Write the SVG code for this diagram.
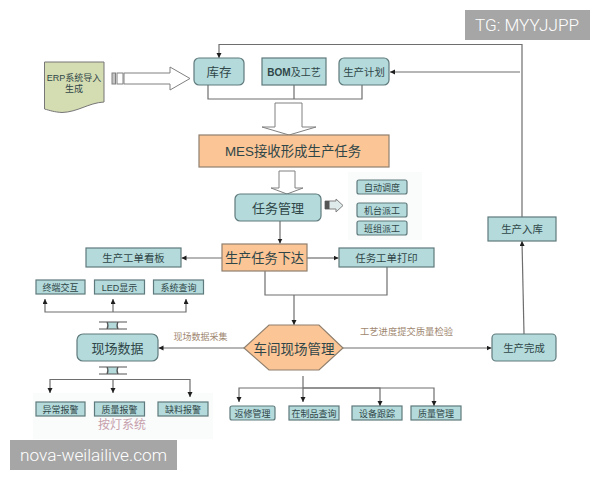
<svg xmlns="http://www.w3.org/2000/svg" width="600" height="480" viewBox="0 0 600 480">
<defs>
<marker id="ah" markerUnits="userSpaceOnUse" markerWidth="6" markerHeight="6" refX="5" refY="2.500" orient="auto"><path d="M0 0L5 2.500L0 5Z" fill="#1e1e1e"/></marker>
</defs>
<style>
text{font-family:"Liberation Sans","Noto Sans CJK SC",sans-serif;text-anchor:middle;fill:#2f4648}
.t{fill:#b4dadb;stroke:#5f7a7c;stroke-width:1.2}
.o{fill:#fbc596;stroke:#8f7f6d;stroke-width:1.2}
.c{fill:none;stroke:#6e6e6e;stroke-width:1.2}
.a{marker-end:url(#ah)}
.b{fill:#fff;stroke:#808080;stroke-width:1}
.s{font-size:9px}
.m{font-size:10.400px}
.l{font-size:13px}
.q{font-size:9px;fill:#a08770}
.wm{fill:#a6a6a6}
.wt{fill:#fff;font-family:Roboto,"Liberation Sans",sans-serif;font-weight:300;font-size:16.500px}
</style>
<rect width="600" height="480" fill="#fff"/>
<rect x="348" y="172" width="74" height="68" fill="#fafbfb"/>
<rect x="33" y="393" width="180" height="46" fill="#fafbfb"/>
<g id="connectors">
<path class="c" d="M208 85V99H362V85M294 85V99"/>
<path class="c a" d="M522 217V44.500H219V58"/>
<path class="c a" d="M520 72H390"/>
<path class="c a" d="M280 221V243.500"/>
<path class="c a" d="M222 258H181.500"/>
<path class="c a" d="M307 258H338.500"/>
<path class="c" d="M265 271V295H387V267"/>
<path class="c a" d="M294 295V325"/>
<path class="c a" d="M244 348H158.500"/>
<path class="c a" d="M343 348H491.500"/>
<path class="c a" d="M524 334L522 241"/>
<path class="c a" d="M113 312V299"/>
<path class="c a" d="M113 312H45V299"/>
<path class="c a" d="M113 312H186V299"/>
<path class="c a" d="M113 379.500V393"/>
<path class="c a" d="M113 379.500H50V393"/>
<path class="c a" d="M113 379.500H190V397"/>
<path class="c a" d="M303 376V402"/>
<path class="c a" d="M303 388H239V402"/>
<path class="c a" d="M303 388H380V406"/>
<path class="c a" d="M303 388H434V406"/>
<path class="b" d="M124 73H170V67L190 78.500L170 90V84H124Z"/>
<rect x="112" y="73" width="3.500" height="11" fill="#c4c4c4" stroke="#808080"/>
<rect class="b" x="117" y="73" width="6" height="11"/>
<path class="b" d="M275 103H302V127H316L289 135L262 127H275Z"/>
<path class="b" d="M279 171H295V188H303L287 194L271 188H279Z"/>
<path d="M325 201H336V199L343 205.500L336 212V209H325Z" fill="#dfeaea" stroke="#808080"/>
<rect x="325" y="201" width="4.500" height="8" fill="#555"/>
<rect x="107" y="322" width="11" height="7" fill="#b4dadb"/>
<path d="M99 322H127M99 329H127M107 322Q109 325.500 107 329M118 322Q116 325.500 118 329" fill="none" stroke="#555" stroke-width="1.200"/>
<rect x="107" y="367" width="11" height="7" fill="#b4dadb"/>
<path d="M99 367H127M99 374H127M107 367Q109 370.500 107 374M118 367Q116 370.500 118 374" fill="none" stroke="#555" stroke-width="1.200"/>
</g>
<g id="erp"><path d="M44.500 62H104V102C88 103 78 112 62 112.500C54 112 50 110.500 44.500 109Z" fill="#d4dcb2" stroke="#777"/><text class="s" x="74" y="80.500">ERP系统导入</text><text class="s" x="74" y="92">生成</text></g>
<g id="kucun"><rect class="t" x="194" y="58" width="50" height="27" rx="5"/><text x="219" y="77" font-size="12.500">库存</text></g>
<g id="bom"><rect class="t" x="262" y="58" width="64" height="27"/><text x="294" y="75.500" font-size="10"><tspan font-weight="700">BOM</tspan>及工艺</text></g>
<g id="plan"><rect class="t" x="339" y="58" width="50" height="27" rx="5"/><text class="m" x="364" y="76">生产计划</text></g>
<g id="mes"><rect class="o" x="199" y="135" width="190" height="32"/><text x="293" y="155.500" font-size="13.400">MES接收形成生产任务</text></g>
<g id="taskmgmt"><rect class="t" x="235" y="194" width="86" height="27" rx="5"/><text class="l" x="278" y="212.500">任务管理</text></g>
<g id="auto"><rect class="t" x="357" y="180" width="50" height="14" rx="2"/><text class="s" x="382" y="190.500">自动调度</text></g>
<g id="machine"><rect class="t" x="357" y="203" width="50" height="14" rx="2"/><text class="s" x="382" y="213.500">机台派工</text></g>
<g id="team"><rect class="t" x="357" y="221" width="50" height="14" rx="2"/><text class="s" x="382" y="231.500">班组派工</text></g>
<g id="inbound"><rect class="t" x="488" y="217" width="68" height="24"/><text class="m" x="522" y="232.500">生产入库</text></g>
<g id="release"><rect class="o" x="222" y="244" width="85" height="27"/><text x="264.500" y="262.500" font-size="13.200">生产任务下达</text></g>
<g id="board"><rect class="t" x="86" y="248" width="95" height="19"/><text class="m" x="133.500" y="262">生产工单看板</text></g>
<g id="print"><rect class="t" x="339" y="248" width="95" height="19"/><text class="m" x="386.500" y="262">任务工单打印</text></g>
<g id="terminal"><rect class="t" x="36" y="280" width="49" height="14"/><text class="s" x="60.500" y="290.500">终端交互</text></g>
<g id="led"><rect class="t" x="94.500" y="280" width="50" height="14"/><text class="s" x="119.500" y="290.500">LED显示</text></g>
<g id="query"><rect class="t" x="153.500" y="280" width="50" height="14"/><text class="s" x="178.500" y="290.500">系统查询</text></g>
<g id="sitedata"><rect class="t" x="77" y="334" width="81" height="27" rx="6"/><text class="l" x="117.500" y="353">现场数据</text></g>
<text class="q" x="200.500" y="340">现场数据采集</text>
<text class="q" x="406.500" y="335" style="font-size:9.300px">工艺进度提交质量检验</text>
<g id="workshop"><path class="o" d="M244 348L269 325H319L343 348L319 370H269Z"/><text x="294" y="354" font-size="13.500">车间现场管理</text></g>
<g id="done"><rect class="t" x="492" y="334" width="64" height="27" rx="4"/><text class="m" x="524" y="352">生产完成</text></g>
<text x="122" y="428.500" font-size="12" style="fill:#c6a0ac">按灯系统</text>
<g id="abn"><rect class="t" x="36" y="402" width="49" height="14"/><text class="s" x="60.500" y="412.500">异常报警</text></g>
<g id="qual"><rect class="t" x="94.500" y="402" width="50" height="14"/><text class="s" x="119.500" y="412.500">质量报警</text></g>
<g id="short"><rect class="t" x="158" y="402" width="50" height="14"/><text class="s" x="183" y="412.500">缺料报警</text></g>
<g id="repair"><rect class="t" x="230" y="406" width="45" height="14" rx="2"/><text class="s" x="252.500" y="416.500">返修管理</text></g>
<g id="wip"><rect class="t" x="289" y="406" width="50" height="14"/><text class="s" x="314" y="416.500">在制品查询</text></g>
<g id="equip"><rect class="t" x="352" y="406" width="50" height="14"/><text class="s" x="377" y="416.500">设备跟踪</text></g>
<g id="qm"><rect class="t" x="411" y="406" width="50" height="14"/><text class="s" x="436" y="416.500">质量管理</text></g>
<g id="watermarks"><rect class="wm" x="465" y="10" width="125" height="30"/><text class="wt" x="527" y="31" textLength="104" lengthAdjust="spacingAndGlyphs">TG: MYYJJPP</text><rect class="wm" x="10" y="440" width="167" height="30"/><text class="wt" x="93.500" y="461" textLength="147" lengthAdjust="spacingAndGlyphs">nova-weilailive.com</text></g>
</svg>
